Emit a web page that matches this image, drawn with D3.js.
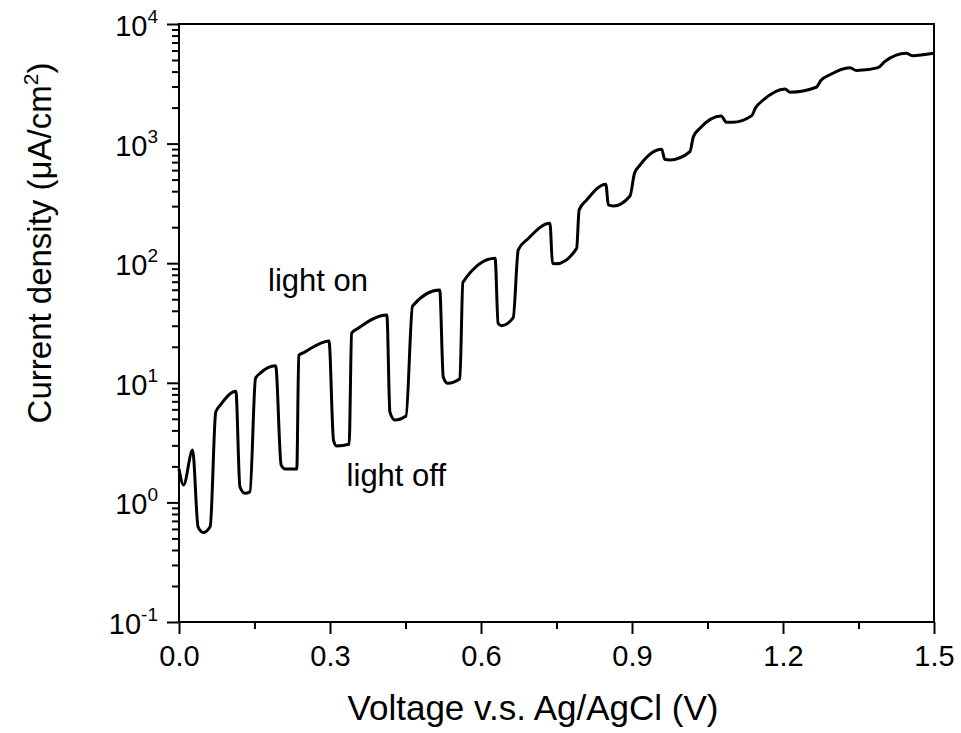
<!DOCTYPE html>
<html>
<head>
<meta charset="utf-8">
<script src="https://cdn.jsdelivr.net/npm/d3@7"></script>
<style>
  body { margin: 0; background: #fff; }
  svg { display: block; }
  text { font-family: "Liberation Sans", Arial, sans-serif; fill: #000; }
</style>
</head>
<body>
<svg id="chart"></svg>
<script>
const WIDTH = 961;
const HEIGHT = 733;

// Photo-current scan, chopped light
const voltage = [
  0.000, 0.009, 0.027, 0.038, 0.048, 0.062, 0.073, 0.082, 0.113, 0.121,
  0.131, 0.141, 0.152, 0.161, 0.192, 0.203, 0.211, 0.234, 0.238, 0.248,
  0.298, 0.307, 0.313, 0.338, 0.343, 0.356, 0.413, 0.419, 0.429, 0.451,
  0.464, 0.518, 0.525, 0.534, 0.558, 0.564, 0.628, 0.634, 0.641, 0.664,
  0.674, 0.694, 0.737, 0.742, 0.750, 0.790, 0.795, 0.810, 0.848, 0.853,
  0.863, 0.896, 0.905, 0.916, 0.959, 0.965, 0.975, 1.015, 1.022, 1.035,
  1.077, 1.088, 1.100, 1.138, 1.145, 1.161, 1.204, 1.214, 1.266, 1.276,
  1.292, 1.333, 1.346, 1.389, 1.402, 1.445, 1.457, 1.499
];
const current = [
  1.9, 1.4, 2.74, 0.62, 0.56, 0.63, 5.7, 6.5, 8.5, 1.35,
  1.19, 1.23, 10.9, 12.0, 13.9, 2.05, 1.9, 1.9, 17.0, 17.9,
  22.4, 3.3, 2.96, 3.06, 26, 28.6, 36.9, 5.7, 4.89, 5.28,
  43.9, 59.7, 11.2, 9.9, 10.8, 69.2, 110, 31.4, 30, 35,
  129, 161, 216, 100, 99, 133, 279, 338, 457, 307,
  301, 365, 565, 662, 896, 739, 730, 855, 1143, 1343,
  1702, 1507, 1507, 1714, 1974, 2316, 2866, 2687, 2958, 3404,
  3750, 4316, 4076, 4316, 4842, 5689, 5433, 5689
];

const xMajorTicks = [0, 0.3, 0.6, 0.9, 1.2, 1.5];
const xMinorTicks = [0.15, 0.45, 0.75, 1.05, 1.35];
const yExponents = [-1, 0, 1, 2, 3, 4];

const annotations = [
  { label: "light on", v: 0.177, j: 58 },
  { label: "light off", v: 0.333, j: 1.36 }
];

const margin = { left: 179, right: 27, top: 24, bottom: 111 };

const svg = d3.select("#chart")
    .attr("width", WIDTH)
    .attr("height", HEIGHT);

const x = d3.scaleLinear()
    .domain([0, 1.5])
    .range([margin.left, WIDTH - margin.right]);

const y = d3.scaleLog()
    .domain([0.1, 10000])
    .range([HEIGHT - margin.bottom, margin.top]);

// minor log ticks 2..9 per decade
const yMinorTicks = [];
yExponents.slice(0, -1).forEach(e => {
    for (let k = 2; k <= 9; k++) yMinorTicks.push(k * Math.pow(10, e));
});

// --- axes ---
const xAxis = svg.append("g")
    .attr("transform", `translate(0,${y(0.1)})`)
    .call(d3.axisBottom(x).tickValues(xMajorTicks).tickSize(12).tickPadding(11)
        .tickFormat(d3.format(".1f")));
xAxis.selectAll(".tick text").attr("font-size", 29).attr("font-family", null);

svg.append("g")
    .attr("transform", `translate(0,${y(0.1)})`)
    .call(d3.axisBottom(x).tickValues(xMinorTicks).tickSize(7).tickFormat(""))
    .call(g => g.select(".domain").remove());

svg.append("g")
    .attr("transform", `translate(${x(0)},0)`)
    .call(d3.axisLeft(y).tickValues(yExponents.map(e => Math.pow(10, e))).tickSize(12).tickFormat(""));

svg.append("g")
    .attr("transform", `translate(${x(0)},0)`)
    .call(d3.axisLeft(y).tickValues(yMinorTicks).tickSize(7).tickFormat(""))
    .call(g => g.select(".domain").remove());

svg.selectAll(".tick line").attr("stroke", "#000").attr("stroke-width", 2);
svg.selectAll(".domain").remove();

// y tick labels with superscript exponent
const yLabels = svg.append("g");
yExponents.forEach(e => {
    const t = yLabels.append("text")
        .attr("x", x(0) - 21)
        .attr("y", y(Math.pow(10, e)) + 12)
        .attr("text-anchor", "end")
        .attr("font-size", 29);
    t.append("tspan").text("10");
    t.append("tspan").attr("dy", -13).attr("font-size", 19).text(e);
});

// frame
svg.append("rect")
    .attr("x", x(0))
    .attr("y", y(10000))
    .attr("width", x(1.5) - x(0))
    .attr("height", y(0.1) - y(10000))
    .attr("fill", "none")
    .attr("stroke", "#000")
    .attr("stroke-width", 2);

// --- curve ---
const points = voltage.map((v, i) => [v, current[i]]);
const line = d3.line()
    .x(d => x(d[0]))
    .y(d => y(d[1]))
    .curve(d3.curveMonotoneX);

svg.append("path")
    .datum(points)
    .attr("fill", "none")
    .attr("stroke", "#000")
    .attr("stroke-width", 3)
    .attr("stroke-linejoin", "round")
    .attr("d", line);

// --- annotations ---
annotations.forEach(a => {
    svg.append("text")
        .attr("x", x(a.v))
        .attr("y", y(a.j))
        .attr("font-size", 31)
        .text(a.label);
});

// --- axis titles ---
svg.append("text")
    .attr("x", 533)
    .attr("y", 720)
    .attr("text-anchor", "middle")
    .attr("font-size", 35)
    .text("Voltage v.s. Ag/AgCl (V)");

const yTitle = svg.append("text")
    .attr("transform", "translate(51,243) rotate(-90)")
    .attr("text-anchor", "middle")
    .attr("font-size", 33);
yTitle.append("tspan").text("Current density (\u03bcA/cm");
yTitle.append("tspan").attr("dy", -13).attr("font-size", 21).text("2");
yTitle.append("tspan").attr("dy", 13).text(")");
</script>
</body>
</html>
